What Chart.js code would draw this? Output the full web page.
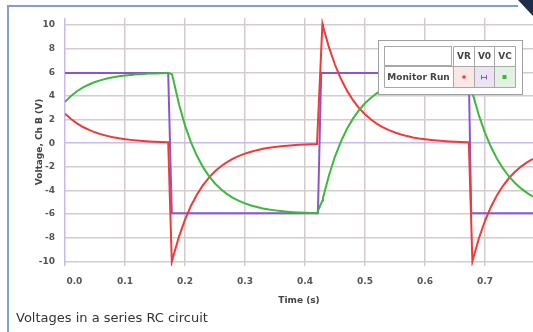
<!DOCTYPE html>
<html><head><meta charset="utf-8">
<script src="https://cdn.jsdelivr.net/npm/chart.js@4.4.1/dist/chart.umd.min.js"></script>
<style>html,body{margin:0;padding:0;background:#fff;}canvas{display:block;}</style>
</head><body>
<canvas id="c" width="533" height="332"></canvas>
<script>
// ---- data ----
const time = [0,0.01,0.02,0.03,0.04,0.05,0.06,0.07,0.08,0.09,0.10,0.11,0.12,0.13,0.14,0.15,0.16,0.17,0.172,
  0.178,0.18,0.19,0.20,0.21,0.22,0.23,0.24,0.25,0.26,0.27,0.28,0.29,0.30,0.31,0.32,0.33,0.34,0.35,0.36,0.37,0.38,0.39,0.40,0.41,0.42,0.4215,
  0.429,0.43,0.44,0.45,0.46,0.47,0.48,0.49,0.50,0.51,0.52,0.53,0.54,0.55,0.56,0.57,0.58,0.59,0.60,0.61,0.62,0.63,0.64,0.65,0.66,0.67,0.673,
  0.679,0.68,0.69,0.70,0.71,0.72,0.73,0.74,0.75,0.76,0.77,0.78];
const vr = [2.50,2.05,1.68,1.37,1.12,0.92,0.75,0.62,0.50,0.41,0.34,0.28,0.23,0.19,0.15,0.12,0.10,0.08,0.08,
  -10.05,-9.66,-7.91,-6.47,-5.30,-4.34,-3.55,-2.91,-2.38,-1.95,-1.60,-1.31,-1.07,-0.88,-0.72,-0.59,-0.48,-0.39,-0.32,-0.26,-0.22,-0.18,-0.14,-0.12,-0.10,-0.08,-0.08,
  10.10,9.90,8.11,6.64,5.43,4.45,3.64,2.98,2.44,2.00,1.64,1.34,1.10,0.90,0.74,0.60,0.49,0.40,0.33,0.27,0.22,0.18,0.15,0.12,0.10,0.08,0.08,
  -10.00,-9.80,-8.03,-6.57,-5.38,-4.40,-3.61,-2.95,-2.42,-1.98,-1.62,-1.33];
const vc = [3.50,4.00,4.40,4.72,4.97,5.18,5.34,5.47,5.58,5.66,5.73,5.78,5.83,5.86,5.89,5.91,5.93,5.94,5.94,
  5.85,5.50,3.30,1.51,0.07,-1.09,-2.03,-2.79,-3.41,-3.90,-4.31,-4.63,-4.89,-5.10,-5.28,-5.41,-5.53,-5.62,-5.69,-5.75,-5.80,-5.84,-5.87,-5.89,-5.91,-5.93,-5.93,
  -4.86,-4.64,-2.71,-1.13,0.16,1.22,2.08,2.79,3.38,3.85,4.24,4.56,4.82,5.03,5.21,5.35,5.47,5.57,5.64,5.71,5.76,5.81,5.84,5.87,5.89,5.91,5.92,
  4.29,4.09,2.33,0.87,-0.33,-1.32,-2.14,-2.82,-3.37,-3.83,-4.21,-4.52];
const v0Time = [0,0.172,0.178,0.4215,0.427,0.673,0.677,0.78];
const v0 = [5.95,5.95,-5.93,-5.93,5.95,5.95,-5.93,-5.93];
const xTicks = [0,0.1,0.2,0.3,0.4,0.5,0.6,0.7];
const yTicks = [-10,-8,-6,-4,-2,0,2,4,6,8,10];
const seriesNames = ['VR','V0','VC'];
const titleText = 'Voltages in a series RC circuit';
const xTitle = 'Time (s)';
const yTitle = 'Voltage, Ch B (V)';
const legendRowLabel = 'Monitor Run';

const RED = '#f03a3a', PURPLE = '#8a55d0', GREEN = '#3db83d';
const FONT = 'DejaVu Sans';

function pts(xs, ys){ return xs.map((x,i)=>({x:x, y:ys[i]})); }

const decor = {
  id:'decor',
  afterDraw(chart){
    const ctx = chart.ctx;
    ctx.save();
    // frame
    ctx.strokeStyle = '#7f9fcc'; ctx.lineWidth = 2;
    ctx.beginPath(); ctx.moveTo(8,332); ctx.lineTo(8,6); ctx.lineTo(518,6); ctx.stroke();
    ctx.fillStyle = '#1f2d4d';
    ctx.beginPath(); ctx.moveTo(518,0); ctx.lineTo(533,0); ctx.lineTo(533,16); ctx.closePath(); ctx.fill();
    // bottom title
    ctx.fillStyle = '#333'; ctx.font = '13px "'+FONT+'"';
    ctx.textAlign = 'left'; ctx.textBaseline = 'middle';
    ctx.fillText(titleText, 16, 319);
    // legend table
    ctx.fillStyle = '#fff'; ctx.fillRect(378,40,144,54);
    ctx.strokeStyle = '#a0a0a0'; ctx.lineWidth = 1;
    ctx.strokeRect(378.5,40.5,144,54);
    const cols = [[453,474],[474,494],[494,515]];
    const bgs = ['#fbe6e8','#ece4f4','#e2f1e2'];
    for (let i=0;i<3;i++){ ctx.fillStyle = bgs[i]; ctx.fillRect(cols[i][0]+1,67,cols[i][1]-cols[i][0]-1,20); }
    ctx.strokeStyle = '#a8a8a8';
    ctx.strokeRect(384.5,46.5,67,19);
    ctx.beginPath();
    ctx.moveTo(453.5,46.5); ctx.lineTo(515.5,46.5);
    ctx.moveTo(384.5,66.5); ctx.lineTo(515.5,66.5);
    ctx.moveTo(384.5,87.5); ctx.lineTo(515.5,87.5);
    ctx.moveTo(384.5,66.5); ctx.lineTo(384.5,87.5);
    [453.5,474.5,494.5,515.5].forEach(x=>{ ctx.moveTo(x,46.5); ctx.lineTo(x,87.5); });
    ctx.stroke();
    ctx.fillStyle = '#444'; ctx.font = 'bold 9px "'+FONT+'"'; ctx.textAlign = 'center';
    for (let i=0;i<3;i++) ctx.fillText(seriesNames[i], (cols[i][0]+cols[i][1])/2+0.5, 56.5);
    ctx.fillText(legendRowLabel, 418.5, 77.5);
    // markers
    ctx.fillStyle = RED; ctx.beginPath(); ctx.arc(464, 77, 1.8, 0, Math.PI*2); ctx.fill();
    ctx.strokeStyle = PURPLE; ctx.lineWidth = 1; ctx.beginPath();
    ctx.moveTo(481.5,75); ctx.lineTo(481.5,79.5); ctx.moveTo(486.5,75); ctx.lineTo(486.5,79.5);
    ctx.moveTo(481.5,77.5); ctx.lineTo(486.5,77.5); ctx.stroke();
    ctx.fillStyle = GREEN; ctx.fillRect(502.5,75,4,4);
    ctx.restore();
  }
};

new Chart(document.getElementById('c'), {
  type:'line',
  data:{ datasets:[
    {label:seriesNames[0], data:pts(time,vr), borderColor:RED, borderWidth:2, pointRadius:0, order:2},
    {label:seriesNames[1], data:pts(v0Time,v0), borderColor:PURPLE, borderWidth:2, pointRadius:0, order:3},
    {label:seriesNames[2], data:pts(time,vc), borderColor:GREEN, borderWidth:2, pointRadius:0, order:1}
  ]},
  options:{
    responsive:false, animation:false, devicePixelRatio:1,
    layout:{padding:{left:9, top:18, right:0, bottom:0}},
    plugins:{legend:{display:false}, tooltip:{enabled:false}, title:{display:false}},
    elements:{line:{tension:0}},
    scales:{
      x:{type:'linear', min:0, max:0.78,
        afterBuildTicks:s=>{ s.ticks = xTicks.map(v=>({value:v})); },
        afterFit:s=>{ s.height = 66; },
        border:{display:false},
        grid:{drawTicks:false, lineWidth:1.5, color:c=> (c.tick && c.tick.value===0) ? '#c9b8ec' : '#d4cccc'},
        ticks:{padding:10, maxRotation:0, color:'#555', font:{family:FONT, size:9, weight:'bold'},
          callback:v=> v===0 ? '      0.0' : v.toFixed(1)},
        title:{display:true, text:xTitle, color:'#444', font:{family:FONT, size:9, weight:'bold'}, padding:{top:0,bottom:26}}
      },
      y:{type:'linear', min:-10.4, max:10.6,
        afterBuildTicks:s=>{ s.ticks = yTicks.map(v=>({value:v})); },
        afterFit:s=>{ s.width = 56; },
        border:{display:false},
        grid:{drawTicks:false, lineWidth:1.5, color:c=> (c.tick && c.tick.value===0) ? '#c9b8ec' : '#d4cccc'},
        ticks:{padding:10, color:'#555', font:{family:FONT, size:9, weight:'bold'}, callback:v=>String(v)},
        title:{display:true, text:yTitle, color:'#444', font:{family:FONT, size:9, weight:'bold'}, padding:{top:25.6,bottom:0}}
      }
    }
  },
  plugins:[decor]
});
</script>
</body></html>
